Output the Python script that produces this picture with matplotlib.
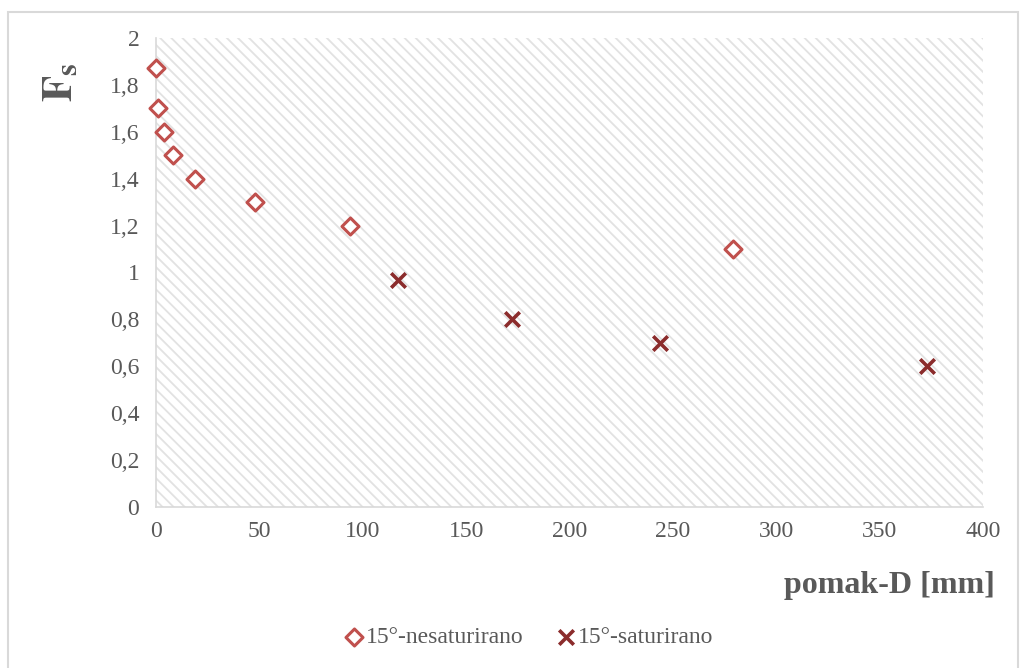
import matplotlib.pyplot as plt
from matplotlib.patches import Rectangle
import matplotlib.ticker as ticker

# podaci ocitani s grafa
x_nesat = [0, 1, 4, 8, 19, 48, 94, 279]
y_nesat = [1.87, 1.70, 1.60, 1.50, 1.40, 1.30, 1.20, 1.10]
x_sat = [117, 172, 244, 373]
y_sat = [0.97, 0.80, 0.70, 0.60]

x_ticks = [0, 50, 100, 150, 200, 250, 300, 350, 400]
y_ticks = [0, 0.2, 0.4, 0.6, 0.8, 1.0, 1.2, 1.4, 1.6, 1.8, 2.0]

siva = '#595959'
plt.rcParams['font.family'] = ['Liberation Serif', 'DejaVu Serif']
plt.rcParams['mathtext.fontset'] = 'stix'
plt.rcParams['hatch.linewidth'] = 1.3

fig = plt.figure(figsize=(10.24, 6.68), dpi=100)
ax = fig.add_axes([156/1024, 1 - 507/668, (983 - 156)/1024, (507 - 38)/668])

# okvir oko cijelog grafa
fig.patches.append(Rectangle((8/1024, -0.01), 1010/1024, 1.01 - 12/668, transform=fig.transFigure,
                             fill=False, edgecolor='#d9d9d9', linewidth=1.5, zorder=0))

# srafura u podrucju crtanja
ax.patch.set_visible(False)
ax.add_patch(Rectangle((0, 0), 1, 1, transform=ax.transAxes, facecolor='white',
                       edgecolor='#e2e2e2', linewidth=0, hatch='\\\\\\', zorder=0))

ax.scatter(x_nesat, y_nesat, marker='D', s=75, facecolors='white', edgecolors='#c0504d',
           linewidths=2.2, zorder=3, clip_on=False, label='15°-nesaturirano')
ax.scatter(x_sat, y_sat, marker='x', s=110, color='#8b2c2c', linewidths=2.6, zorder=3,
           clip_on=False, label='15°-saturirano')

ax.set_xlim(0, 400)
ax.set_ylim(0, 2)
ax.xaxis.set_major_locator(ticker.FixedLocator(x_ticks))
ax.yaxis.set_major_locator(ticker.FixedLocator(y_ticks))
ax.yaxis.set_major_formatter(ticker.FuncFormatter(lambda v, p: ('%g' % round(v, 1)).replace('.', ',')))
ax.tick_params(length=0, labelsize=17, colors=siva, pad=12)
ax.tick_params(axis='x', pad=10)

for s in ['top', 'right']:
    ax.spines[s].set_visible(False)
for s in ['left', 'bottom']:
    ax.spines[s].set_color('#d9d9d9')
    ax.spines[s].set_linewidth(1.2)

fig.text(995/1024, 1 - 585/668, 'pomak-D [mm]', ha='right', va='center', fontsize=23,
         fontweight='bold', color=siva, family='Liberation Serif')
fig.text(62/1024, 1 - 82/668, r'$\mathbf{F}_{\mathbf{s}}$', ha='center', va='center', rotation=90,
         fontsize=31, color=siva)

leg = fig.legend(loc='center', bbox_to_anchor=(0.515, 1 - 637/668), ncol=2, frameon=False,
                 fontsize=17, handletextpad=0.0, columnspacing=1.3, handlelength=1.0)
for t in leg.get_texts():
    t.set_color(siva)

fig.savefig('out.png', dpi=100)
